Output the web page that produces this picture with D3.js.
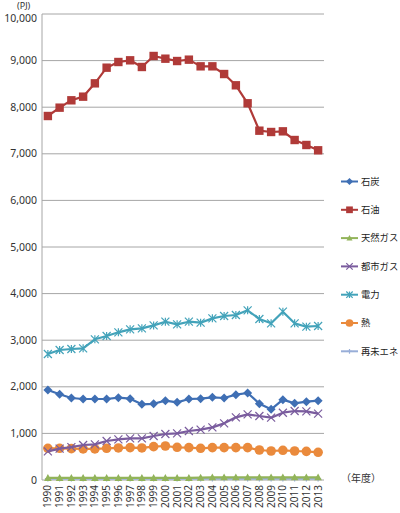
<!DOCTYPE html>
<html><head><meta charset="utf-8">
<script src="https://cdn.jsdelivr.net/npm/d3@7"></script>
<style>body{margin:0;background:#fff}svg{display:block}text{font-family:"Noto Sans","Noto Sans CJK JP",sans-serif}</style>
</head><body><svg id="c" width="400" height="513"></svg>
<script>
const years = ["1990","1991","1992","1993","1994","1995","1996","1997","1998","1999","2000","2001","2002","2003","2004","2005","2006","2007","2008","2009","2010","2011","2012","2013"];
const yTicks = [0,1000,2000,3000,4000,5000,6000,7000,8000,9000,10000];
const coal = [1931,1839,1760,1738,1738,1738,1767,1746,1624,1635,1703,1667,1738,1746,1774,1760,1831,1867,1638,1517,1724,1645,1681,1703];
const oil = [7811,7990,8148,8226,8512,8848,8970,9006,8863,9099,9041,8991,9020,8877,8877,8712,8470,8084,7496,7468,7482,7296,7189,7075];
const natGas = [45,45,45,45,45,45,45,45,45,45,45,45,45,50,58,58,58,58,58,58,58,58,58,58];
const cityGas = [615,672,705,751,765,837,873,894,894,945,987,1001,1051,1080,1130,1216,1345,1409,1373,1337,1444,1480,1473,1423];
const power = [2704,2790,2811,2826,3019,3090,3169,3233,3255,3318,3397,3341,3397,3376,3469,3519,3541,3641,3455,3362,3612,3362,3290,3305];
const heat = [680,680,673,666,666,680,688,695,688,716,730,702,695,680,695,695,695,695,644,622,637,622,615,594];
const renew = [30,30,30,30,30,30,30,30,30,30,30,30,30,30,30,30,30,30,30,30,30,30,30,30];
const seriesNames = ["石炭","石油","天然ガス","都市ガス","電力","熱","再未エネ"];
const seriesData = [coal, oil, natGas, cityGas, power, heat, renew];
const colors = ["#3f6fb4","#b03a38","#92b45a","#7a5c9e","#43a3ba","#ea8a3c","#98aed8"];
const markers = ["diamond","square","triangle","x","star","circle","plus"];

const svg = d3.select("#c");
const m = {l:42, r:324, t:14, b:480};
const x = d3.scaleBand().domain(years).range([m.l, m.r]);
const y = d3.scaleLinear().domain([0,10000]).range([m.b, m.t]);
const cx = d => x(d) + x.bandwidth()/2;

svg.append("g").selectAll("line").data(yTicks.filter(d=>d>0)).join("line")
  .attr("x1", m.l).attr("x2", m.r).attr("y1", d=>y(d)).attr("y2", d=>y(d))
  .attr("stroke", "#a6a6a6").attr("stroke-width", 1);
svg.append("line").attr("x1", m.l).attr("x2", m.l).attr("y1", m.t).attr("y2", m.b).attr("stroke","#a6a6a6");
svg.append("line").attr("x1", m.l).attr("x2", m.r).attr("y1", m.b).attr("y2", m.b).attr("stroke","#a6a6a6");

const fmt = d3.format(",");
svg.append("g").selectAll("text").data(yTicks).join("text")
  .attr("x", 37).attr("y", d=>y(d) + (d===10000 ? 4 : 0)).attr("dy","0.35em").attr("text-anchor","end")
  .attr("font-size", 10.5).attr("fill","#333").text(d=>fmt(d));
svg.append("g").selectAll("text").data(years).join("text")
  .attr("transform", d=>`translate(${cx(d)},485) rotate(-90)`)
  .attr("dy","0.35em").attr("text-anchor","end").attr("font-size",10).attr("fill","#333").text(d=>d);

svg.append("text").attr("x", 17).attr("y", 8.5).attr("font-size", 9).attr("fill","#333").text("(PJ)");
svg.append("text").attr("x", 341).attr("y", 482).attr("font-size", 10).attr("fill","#333").text("（年度）");

function drawMarker(g, type, color, px, py, s) {
  if (type === "diamond") {
    g.append("path").attr("d", `M${px},${py-s}L${px+s},${py}L${px},${py+s}L${px-s},${py}Z`).attr("fill", color);
  } else if (type === "square") {
    g.append("rect").attr("x", px-s).attr("y", py-s).attr("width", 2*s).attr("height", 2*s).attr("fill", color);
  } else if (type === "triangle") {
    g.append("path").attr("d", `M${px},${py-s}L${px+s},${py+s*0.8}L${px-s},${py+s*0.8}Z`).attr("fill", color);
  } else if (type === "circle") {
    g.append("circle").attr("cx", px).attr("cy", py).attr("r", s).attr("fill", color);
  } else if (type === "x") {
    g.append("path").attr("d", `M${px-s},${py-s}L${px+s},${py+s}M${px-s},${py+s}L${px+s},${py-s}`).attr("stroke", color).attr("stroke-width", 1.2);
  } else if (type === "star") {
    g.append("path").attr("d", `M${px-s},${py-s}L${px+s},${py+s}M${px-s},${py+s}L${px+s},${py-s}M${px},${py-s}L${px},${py+s}`).attr("stroke", color).attr("stroke-width", 1.2);
  } else if (type === "plus") {
    g.append("path").attr("d", `M${px-s},${py}L${px+s},${py}M${px},${py-s}L${px},${py+s}`).attr("stroke", color).attr("stroke-width", 1.2);
  }
}
const sizes = {diamond:4.5, square:4.2, triangle:3.8, circle:4.8, x:4, star:4, plus:3};

const line = d3.line().x((d,i)=>cx(years[i])).y(d=>y(d));
const order = [6,2,5,3,0,4,1];
order.forEach(k => {
  const g = svg.append("g");
  g.append("path").datum(seriesData[k]).attr("d", line).attr("fill","none")
    .attr("stroke", colors[k]).attr("stroke-width", 2.2).attr("stroke-linejoin","round");
  seriesData[k].forEach((v,i) => drawMarker(g, markers[k], colors[k], cx(years[i]), y(v), sizes[markers[k]]));
});

const lg = svg.append("g");
seriesNames.forEach((n,i) => {
  const ly = 181.5 + i*28.3;
  lg.append("line").attr("x1",341).attr("x2",358).attr("y1",ly).attr("y2",ly).attr("stroke",colors[i]).attr("stroke-width",2);
  drawMarker(lg, markers[i], colors[i], 349.5, ly, sizes[markers[i]]*0.8);
  lg.append("text").attr("x",361).attr("y",ly).attr("dy","0.35em").attr("font-size",9.3).attr("fill","#222").text(n);
});
</script></body></html>
